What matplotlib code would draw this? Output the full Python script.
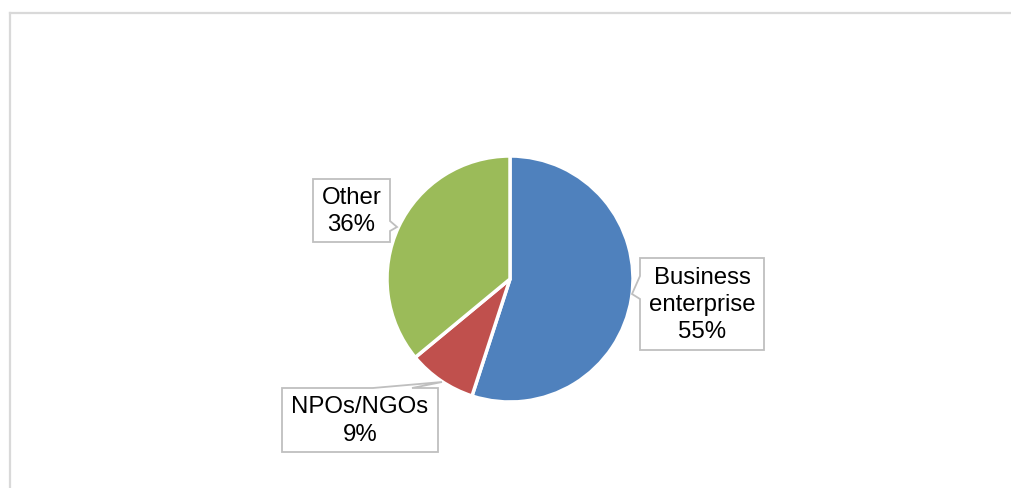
import matplotlib
matplotlib.use("Agg")
import matplotlib.pyplot as plt
from matplotlib.patches import Polygon
from matplotlib.lines import Line2D

# data
categories = ["Business enterprise", "NPOs/NGOs", "Other"]
label_text = ["Business\nenterprise", "NPOs/NGOs", "Other"]
shares = [55, 9, 36]
colors = ["#4f81bd", "#c0504d", "#9bbb59"]

W, H = 1012, 489
plt.rcParams['font.family'] = ['Liberation Sans', 'DejaVu Sans']

fig = plt.figure(figsize=(W / 100, H / 100), dpi=100)
ax = fig.add_axes([0, 0, 1, 1])

def fy(y):
    # image pixel row -> data y
    return H - y

# pie, clockwise from 12 o'clock
ax.pie(shares, colors=colors, startangle=90, counterclock=False,
       center=(510, fy(280)), radius=123,
       wedgeprops=dict(edgecolor="white", linewidth=2.5))

# callout shapes (image pixel coords): outline incl. pointer, then text centre
callouts = [
    ([(640, 259), (764, 259), (764, 351), (640, 351), (640, 300), (632, 295), (640, 277)], (702, 305)),
    ([(282, 389), (373, 389), (442, 383), (412, 389), (438, 389), (438, 453), (282, 453)], (360, 421)),
    ([(313, 180), (390, 180), (390, 222), (397, 228), (390, 232), (390, 243), (313, 243)], (351.5, 211.5)),
]

for (pts, (tx, ty)), name, val in zip(callouts, label_text, shares):
    poly = Polygon([(x, fy(y)) for x, y in pts], closed=True, facecolor="white",
                   edgecolor="#bfbfbf", linewidth=1.3, zorder=3)
    ax.add_patch(poly)
    ax.text(tx, fy(ty), f"{name}\n{val}%", ha="center", va="center",
            fontsize=17.3, color="black", linespacing=1.3, zorder=4)

ax.set_xlim(0, W)
ax.set_ylim(0, H)
ax.set_aspect("auto")
ax.axis("off")

# chart area border (top and left visible)
fig.add_artist(Line2D([10 / W, 1], [1 - 13.5 / H, 1 - 13.5 / H], color="#d9d9d9", linewidth=1.6))
fig.add_artist(Line2D([10 / W, 10 / W], [0, 1 - 13.5 / H], color="#d9d9d9", linewidth=1.6))

fig.savefig("out.png", dpi=100, facecolor="white")
